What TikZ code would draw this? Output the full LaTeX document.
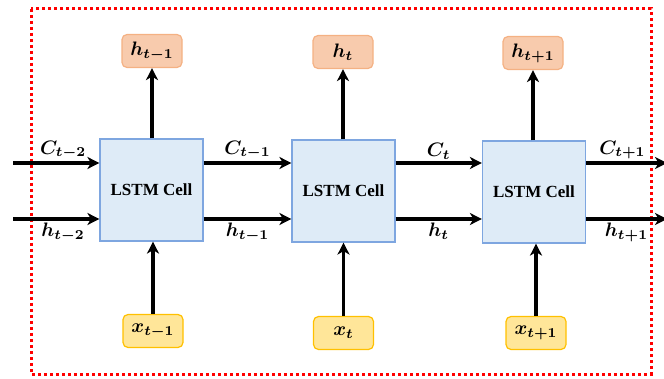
\documentclass[tikz,border=0pt]{standalone}
\usepackage{fontspec}
\usepackage{amsmath}
\usepackage{bm}
\newfontfamily\cellfont{Liberation Serif}
\usetikzlibrary{arrows.meta}
\definecolor{cellfill}{HTML}{DEEBF7}
\definecolor{celldraw}{HTML}{7EA6E0}
\definecolor{hfill}{HTML}{F8CBAD}
\definecolor{hdraw}{HTML}{F4B183}
\definecolor{xfill}{HTML}{FFE699}
\definecolor{xdraw}{HTML}{FFC000}
\newcommand\mlab[1]{\scalebox{1.95}{$\bm{#1}$}}
\begin{document}
\begin{tikzpicture}[x=1pt,y=-1pt,
  cellbox/.style={draw=celldraw,fill=cellfill,line width=1.2pt,minimum width=103pt,minimum height=102pt,inner sep=0pt,
    font=\cellfont\bfseries\fontsize{17}{19}\selectfont},
  hbox/.style={draw=hdraw,fill=hfill,line width=1.2pt,rounded corners=5pt,minimum width=60pt,minimum height=33pt,inner sep=0pt},
  xbox/.style={draw=xdraw,fill=xfill,line width=1.2pt,rounded corners=5pt,minimum width=60pt,minimum height=33pt,inner sep=0pt},
  lbl/.style={inner sep=1pt},
  arr/.style={line width=3.2pt,-{Stealth[length=12pt,width=12pt,inset=3.5pt]}},
  frame/.style={draw=red,line width=3pt,dash pattern=on 3pt off 3pt}
]
\useasboundingbox (0,0) rectangle (664,379);
\draw[frame] (31,9) rectangle (651,374);

\node[cellbox] (c1) at (151.5,190) {LSTM Cell};
\node[cellbox] (c2) at (343.5,191) {LSTM Cell};
\node[cellbox] (c3) at (534,192) {LSTM Cell};

\node[hbox] (h1) at (152,51) {\mlab{h_{t-1}}};
\node[hbox] (h2) at (343,52) {\mlab{h_{t}}};
\node[hbox] (h3) at (533,53) {\mlab{h_{t+1}}};

\node[xbox] (x1) at (153,331) {\mlab{x_{t-1}}};
\node[xbox] (x2) at (343.5,333) {\mlab{x_{t}}};
\node[xbox] (x3) at (536,333) {\mlab{x_{t+1}}};

\coordinate (inC) at (13,163);
\coordinate (inH) at (13,219);
\coordinate (outC) at (667,163);
\coordinate (outH) at (667,219);

% vertical
\draw[arr] (c1.north -| h1) -- (h1.south);
\draw[arr] (c2.north -| h2) -- (h2.south);
\draw[arr] (c3.north -| h3) -- (h3.south);
\draw[arr] (x1.north) -- (x1.north |- c1.south);
\draw[arr] (x2.north) -- (x2.north |- c2.south);
\draw[arr] (x3.north) -- (x3.north |- c3.south);

% horizontal C
\draw[arr] (inC) -- node[lbl,above=1pt,pos=0.58]{\mlab{C_{t-2}}} (inC -| c1.west);
\draw[arr] (inC -| c1.east) -- node[lbl,above=1pt]{\mlab{C_{t-1}}} (inC -| c2.west);
\draw[arr] (inC -| c2.east) -- node[lbl,above=1pt]{\mlab{C_{t}}} (inC -| c3.west);
\draw[arr] (inC -| c3.east) -- node[lbl,above=1pt,pos=0.45]{\mlab{C_{t+1}}} (outC);

% horizontal h
\draw[arr] (inH) -- node[lbl,below=1pt,pos=0.58]{\mlab{h_{t-2}}} (inH -| c1.west);
\draw[arr] (inH -| c1.east) -- node[lbl,below=1pt]{\mlab{h_{t-1}}} (inH -| c2.west);
\draw[arr] (inH -| c2.east) -- node[lbl,below=1pt]{\mlab{h_{t}}} (inH -| c3.west);
\draw[arr] (inH -| c3.east) -- node[lbl,below=1pt,pos=0.5]{\mlab{h_{t+1}}} (outH);
\end{tikzpicture}
\end{document}
